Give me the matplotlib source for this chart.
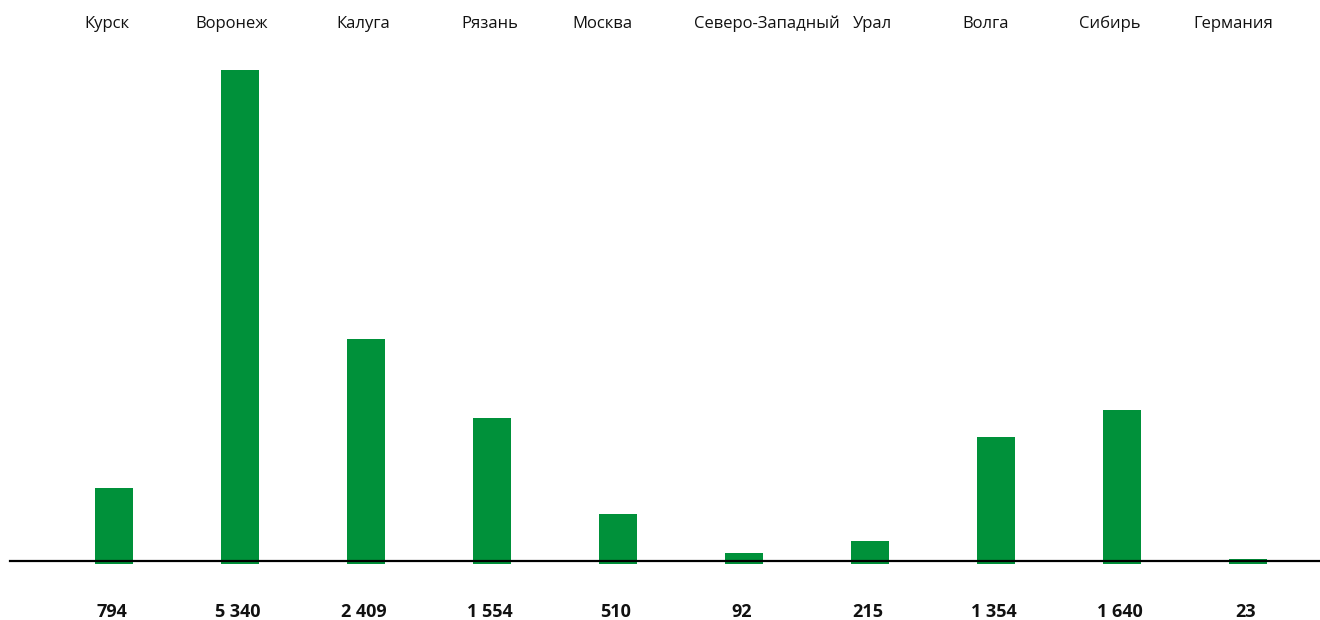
import matplotlib
matplotlib.use("Agg")
import matplotlib.pyplot as plt
import numpy as np

# data
regions = ['Курск', 'Воронеж', 'Калуга', 'Рязань', 'Москва',
           'Северо-Западный', 'Урал', 'Волга', 'Сибирь', 'Германия']
values = [794, 5340, 2409, 1554, 510, 92, 215, 1354, 1640, 23]

# label nudges (in bar slots) to mimic the original layout
label_shift = [-0.06, -0.07, -0.02, -0.02, -0.12, 0.18, 0.02, -0.08, -0.10, -0.12]

plt.rcParams['font.family'] = ['Open Sans', 'DejaVu Sans']

fig = plt.figure(figsize=(13.2, 6.2), dpi=100)
# axes runs from 70px (top) to 564px from the top of the figure
ax = fig.add_axes([10 / 1320, (620 - 564) / 620, 1310 / 1320, (564 - 70) / 620])

x = np.arange(len(regions))
ymax = max(values)
px = ymax / 491  # one pixel in data units
# bars start a couple of pixels under the baseline, like the original
ax.bar(x, np.array(values) + 3 * px, bottom=-3 * px, width=0.30,
       color='#00913a', zorder=2)
ax.axhline(0, color='black', lw=1.6, zorder=3, clip_on=False)

ax.set_xlim((10 - 114) / 126, (1320 - 114) / 126)
ax.set_ylim(-3 * px, ymax)
ax.axis('off')

for i, (name, v) in enumerate(zip(regions, values)):
    ax.annotate(name, xy=(i + label_shift[i], 1), xycoords=('data', 'figure fraction'),
                xytext=(0, -24), textcoords='offset pixels',
                ha='center', va='center', fontsize=12, color='#111111')
    ax.annotate(f'{v:,}'.replace(',', ' '), xy=(i - 0.02, 1), xycoords=('data', 'figure fraction'),
                xytext=(0, -612), textcoords='offset pixels',
                ha='center', va='center', fontsize=13, fontweight='bold', color='#111111')

fig.savefig('out.png', dpi=100)
